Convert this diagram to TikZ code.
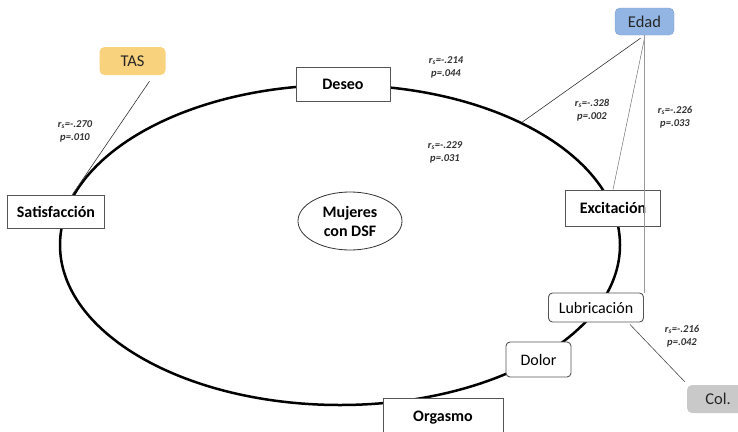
\documentclass[tikz,border=0pt]{standalone}
\usepackage{fontspec}
\setmainfont{Carlito}
\usetikzlibrary{shapes.geometric}
\definecolor{tasfill}{HTML}{F9D27E}
\definecolor{edadfill}{HTML}{92B5E3}
\definecolor{edaddraw}{HTML}{7C9FCF}
\definecolor{colfill}{HTML}{C9C9C9}
\definecolor{boxdraw}{HTML}{555555}
\definecolor{stattext}{HTML}{333333}
\tikzset{
  sqbox/.style={draw=boxdraw, fill=white, line width=0.9pt, font=\fontsize{16}{19}\selectfont\bfseries, inner sep=0pt},
  rdbox/.style={draw=boxdraw, fill=white, line width=0.9pt, rounded corners=4pt, font=\fontsize{16}{19}\selectfont, inner sep=0pt},
  colbox/.style={rounded corners=5pt, font=\fontsize{16.5}{19}\selectfont, inner sep=0pt, text=black!85},
  stat/.style={font=\fontsize{10.5}{13}\selectfont\bfseries\itshape, text=stattext, align=center, inner sep=0pt},
  link/.style={draw=black!80, line width=0.6pt},
  glink/.style={draw=black!40, line width=0.6pt}
}
\begin{document}
\begin{tikzpicture}[x=1pt,y=-1pt]
\clip (0,0) rectangle (738,431);
\fill[white] (0,0) rectangle (738,431);
% big ellipse
\node[ellipse, draw=black, line width=2.5pt, minimum width=560pt, minimum height=320pt, inner sep=0pt] (ring) at (340,245) {};
% centre
\node[ellipse, draw=black!80, line width=0.8pt, minimum width=104pt, minimum height=58pt, inner sep=0pt, align=center, font=\fontsize{16}{19}\selectfont\bfseries] (muj) at (350,221) {Mujeres\\con DSF};
% boxes on ring
\node[sqbox, minimum width=94pt, minimum height=34pt] (deseo) at (343,84) {Deseo};
\node[sqbox, minimum width=97pt, minimum height=33pt] (sat) at (56,212) {Satisfacción};
\node[sqbox, minimum width=95pt, minimum height=36pt] (exc) at (613,208) {Excitación};
\node[rdbox, minimum width=95pt, minimum height=29pt] (lub) at (596,307.5) {Lubricación};
\node[rdbox, minimum width=65pt, minimum height=35pt] (dolor) at (538.5,359.5) {Dolor};
\node[sqbox, minimum width=120pt, minimum height=36pt, text depth=0pt] (org) at (443,416) {Orgasmo};
% external variables
\node[colbox, fill=tasfill, minimum width=66pt, minimum height=28pt] (tas) at (132.5,61) {TAS};
\node[colbox, fill=edadfill, draw=edaddraw, line width=0.4pt, minimum width=59pt, minimum height=27pt] (edad) at (644.5,21.5) {Edad};
\node[colbox, fill=colfill, minimum width=62pt, minimum height=28pt] (col) at (718,399) {Col.};
% connectors
\draw[link] ([xshift=17pt,yshift=-6pt]tas.south) -- ([xshift=16pt]sat.north);
\draw[link] ([xshift=-4pt,yshift=-3pt]edad.south) -- (ring.34);
\draw[glink, line width=0.5pt, draw=black!55] ([yshift=-3pt]edad.south) -- (exc.north);
\draw[glink] (edad.south) -- (edad.south |- lub.north);
\draw[link, draw=black!70] ([xshift=-14pt,yshift=-2pt]lub.south east) -- ([xshift=-2pt,yshift=3pt]col.north west);
% statistics
\node[stat] (s1) at (75,131) {r\textsubscript{s}=-.270\\p=.010};
\node[stat] (s2) at (446,67) {r\textsubscript{s}=-.214\\p=.044};
\node[stat] (s3) at (445,152) {r\textsubscript{s}=-.229\\p=.031};
\node[stat] (s4) at (592,110) {r\textsubscript{s}=-.328\\p=.002};
\node[stat] (s5) at (675,117) {r\textsubscript{s}=-.226\\p=.033};
\node[stat] (s6) at (682,336) {r\textsubscript{s}=-.216\\p=.042};
\end{tikzpicture}
\end{document}
